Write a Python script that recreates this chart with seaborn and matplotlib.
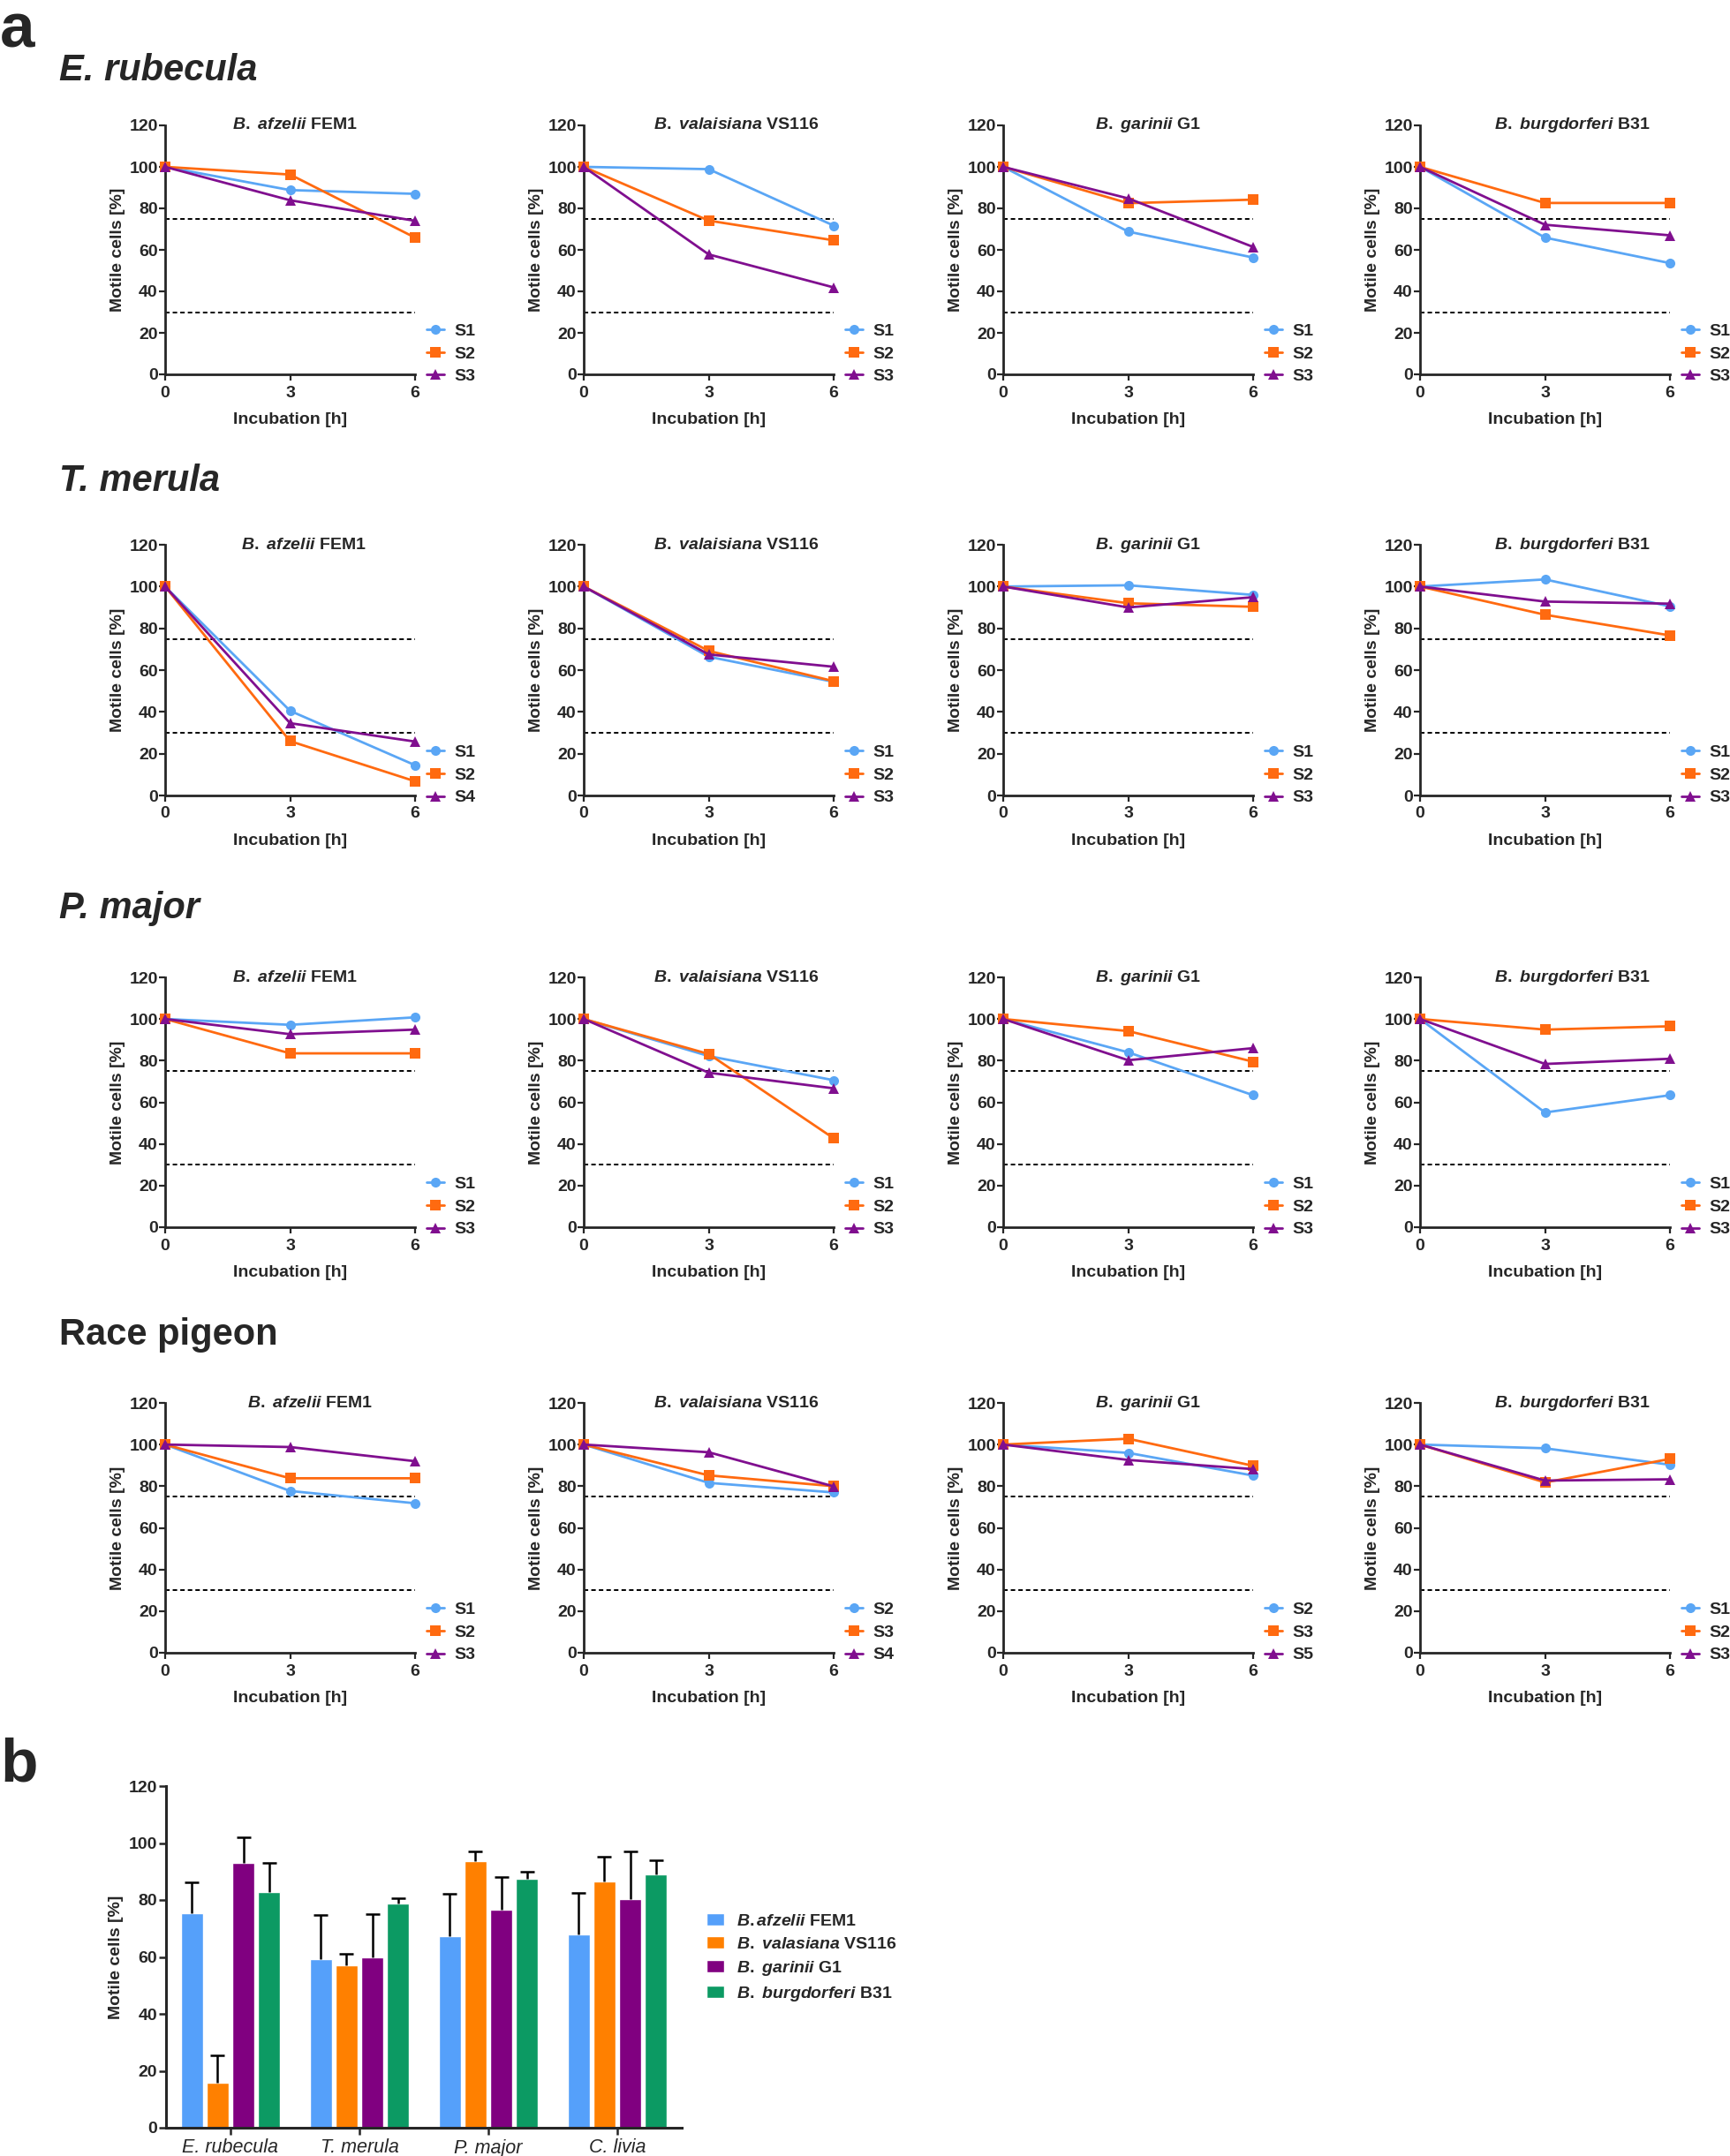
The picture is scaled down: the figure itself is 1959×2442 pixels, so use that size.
import numpy as np
import pandas as pd
import matplotlib
matplotlib.use("Agg")
import matplotlib.pyplot as plt
import seaborn as sns

# ---------------- data ----------------
hours = [0, 3, 6]
bird_titles = ["E. rubecula", "T. merula", "P. major", "Race pigeon"]
strain_titles = [r"$\mathit{B.\ afzelii}$ FEM1", r"$\mathit{B.\ valaisiana}$ VS116",
                 r"$\mathit{B.\ garinii}$ G1", r"$\mathit{B.\ burgdorferi}$ B31"]

# E. rubecula (rows: S1, S2, S3)
rub_afz = [[100, 88.8, 87.0], [100, 96.3, 65.9], [100, 83.9, 74.0]]
rub_val = [[100, 98.9, 71.7], [100, 74.1, 64.6], [100, 57.8, 41.9]]
rub_gar = [[100, 68.8, 56.3], [100, 82.5, 84.2], [100, 84.8, 61.4]]
rub_bur = [[100, 65.9, 53.6], [100, 82.6, 82.6], [100, 72.1, 67.0]]
# T. merula
mer_afz = [[100, 40.5, 14.5], [100, 26.0, 6.8], [100, 34.6, 25.8]]
mer_val = [[100, 66.4, 54.4], [100, 69.2, 54.7], [100, 67.5, 61.6]]
mer_gar = [[100, 100.6, 96.0], [100, 92.0, 90.3], [100, 90.0, 94.9]]
mer_bur = [[100, 103.4, 90.5], [100, 86.5, 76.6], [100, 92.8, 91.8]]
# P. major
maj_afz = [[100, 97.2, 100.8], [100, 83.5, 83.5], [100, 92.7, 94.9]]
maj_val = [[100, 82.2, 70.6], [100, 83.2, 42.7], [100, 74.2, 66.7]]
maj_gar = [[100, 84.0, 63.4], [100, 94.2, 79.5], [100, 80.2, 86.0]]
maj_bur = [[100, 55.1, 63.4], [100, 94.9, 96.5], [100, 78.4, 80.9]]
# Race pigeon
pig_afz = [[100, 77.7, 71.8], [100, 83.8, 83.8], [100, 98.8, 92.0]]
pig_val = [[100, 81.6, 77.0], [100, 85.2, 80.0], [100, 96.3, 79.9]]
pig_gar = [[100, 96.0, 85.1], [100, 102.8, 89.8], [100, 92.6, 88.2]]
pig_bur = [[100, 98.2, 90.3], [100, 81.8, 93.1], [100, 82.7, 83.3]]

rub_labels = [["S1", "S2", "S3"]] * 4
mer_labels = [["S1", "S2", "S4"], ["S1", "S2", "S3"], ["S1", "S2", "S3"], ["S1", "S2", "S3"]]
maj_labels = [["S1", "S2", "S3"]] * 4
pig_labels = [["S1", "S2", "S3"], ["S2", "S3", "S4"], ["S2", "S3", "S5"], ["S1", "S2", "S3"]]

# panel b
bar_birds = ["E. rubecula", "T. merula", "P. major", "C. livia"]
bar_strains = [r"$\mathit{B.afzelii}$ FEM1", r"$\mathit{B.\ valasiana}$ VS116",
               r"$\mathit{B.\ garinii}$ G1", r"$\mathit{B.\ burgdorferi}$ B31"]
afz_mean = [75.5, 59.3, 67.2, 67.9]
val_mean = [15.8, 56.9, 93.6, 86.5]
gar_mean = [93.0, 60.0, 76.6, 80.2]
bur_mean = [82.9, 78.9, 87.5, 89.1]
afz_sd = [10.7, 15.5, 15.0, 14.5]
val_sd = [9.6, 4.2, 3.3, 8.8]
gar_sd = [8.9, 15.1, 11.6, 16.8]
bur_sd = [10.1, 1.8, 2.5, 4.9]

# ---------------- style ----------------
sns.set_style("ticks")
plt.rcParams["font.family"] = ["Liberation Sans", "DejaVu Sans"]
plt.rcParams["font.weight"] = "bold"
plt.rcParams["axes.labelweight"] = "bold"
plt.rcParams["mathtext.fontset"] = "custom"
plt.rcParams["mathtext.it"] = "Liberation Sans:italic:bold"
plt.rcParams["mathtext.rm"] = "Liberation Sans:bold"
plt.rcParams["mathtext.bf"] = "Liberation Sans:bold"

line_colors = ["#5aa6f5", "#ff6a10", "#800f8f"]
bar_colors = ["#55a0fa", "#ff8000", "#800080", "#0c9a63"]

W, H = 1959, 2442
fig = plt.figure(figsize=(W / 100, H / 100), dpi=100)

col_left = [187, 661, 1136, 1608]
col_w = 283
row_top = [142, 617, 1107, 1589]
row_bot = [424, 901, 1390, 1872]
head_y = [80, 545, 1029, 1512]
# horizontal shift (px) of each panel title from the axes centre
title_dx = [[5, 31, 23, 31], [15, 31, 23, 31], [5, 31, 23, 31], [22, 31, 23, 31]]

panels = [[rub_afz, rub_val, rub_gar, rub_bur],
          [mer_afz, mer_val, mer_gar, mer_bur],
          [maj_afz, maj_val, maj_gar, maj_bur],
          [pig_afz, pig_val, pig_gar, pig_bur]]
panel_labels = [rub_labels, mer_labels, maj_labels, pig_labels]

FS = 14
for r in range(4):
    style = "italic" if r < 3 else "normal"
    fig.text(67 / W, 1 - head_y[r] / H, bird_titles[r], fontsize=30, fontweight="bold",
             fontstyle=style, va="center", ha="left")
    for c in range(4):
        ax = fig.add_axes([col_left[c] / W, 1 - row_bot[r] / H, col_w / W, (row_bot[r] - row_top[r]) / H])
        vals = panels[r][c]
        labels = panel_labels[r][c]
        df = pd.DataFrame({"h": hours * 3,
                           "v": sum(vals, []),
                           "s": np.repeat(labels, 3)})
        ax.axhline(75, color="black", ls=(0, (2.6, 1.8)), lw=1.4, zorder=1)
        ax.axhline(30, color="black", ls=(0, (2.6, 1.8)), lw=1.4, zorder=1)
        sns.lineplot(data=df, x="h", y="v", hue="s", style="s", hue_order=labels, style_order=labels,
                     palette=line_colors, markers=["o", "s", "^"], dashes=False, markersize=8,
                     markeredgewidth=0, linewidth=2.0, errorbar=None, ax=ax, clip_on=False, zorder=3)
        ax.set_xlim(0, 6)
        ax.set_ylim(0, 120)
        ax.set_xticks([0, 3, 6])
        ax.set_yticks(range(0, 121, 20))
        ax.tick_params(axis="both", direction="out", length=5, width=1.6, labelsize=FS)
        ax.tick_params(axis="x", pad=4)
        ax.tick_params(axis="y", pad=1)
        for sp in ["top", "right"]:
            ax.spines[sp].set_visible(False)
        for sp in ["left", "bottom"]:
            ax.spines[sp].set_linewidth(2.0)
        ax.set_xlabel("Incubation [h]", fontsize=FS, fontweight="bold", labelpad=10)
        ax.set_ylabel("Motile cells [%]", fontsize=FS, fontweight="bold", labelpad=3)
        ax.text(0.5 + title_dx[r][c] / col_w, 1.0, strain_titles[c], transform=ax.transAxes,
                ha="center", va="center", fontsize=FS, fontweight="bold")
        sns.move_legend(ax, "lower left", bbox_to_anchor=(1.045, -0.04), frameon=False, title=None,
                        handlelength=1.05, handletextpad=0.6, labelspacing=0.42, borderpad=0,
                        borderaxespad=0, prop={"weight": "bold", "size": FS})

fig.text(0, 1 - 53 / H, "a", fontsize=51, fontweight="bold", va="baseline", ha="left")
fig.text(0, 1 - 2018 / H, "b", fontsize=50, fontweight="bold", va="baseline", ha="left")

# ---------------- panel b ----------------
axb = fig.add_axes([188 / W, 1 - 2410 / H, (772 - 188) / W, (2410 - 2023) / H])
df_b = pd.DataFrame({"bird": np.tile(bar_birds, 4),
                     "strain": np.repeat(bar_strains, 4),
                     "v": afz_mean + val_mean + gar_mean + bur_mean})
sns.barplot(data=df_b, x="bird", y="v", hue="strain", order=bar_birds, hue_order=bar_strains,
            palette=bar_colors, saturation=1, gap=0.15, width=0.8, errorbar=None, ax=axb, zorder=2)
for cont, sd in zip(axb.containers, [afz_sd, val_sd, gar_sd, bur_sd]):
    xs = np.array([p.get_x() + p.get_width() / 2 for p in cont])
    ys = np.array([p.get_height() for p in cont])
    tops = ys + np.array(sd)
    axb.vlines(xs, ys, tops, color="black", lw=1.8, zorder=3)
    axb.plot(xs, tops, ls="none", marker="_", markersize=11, markeredgewidth=1.8,
             color="black", zorder=3)
axb.set_xlim(-0.5, 3.5)
axb.set_ylim(0, 120)
axb.set_yticks(range(0, 121, 20))
axb.tick_params(direction="out", length=6, width=1.8, labelsize=FS)
axb.tick_params(axis="y", pad=1)
axb.tick_params(axis="x", pad=3)
for sp in ["top", "right"]:
    axb.spines[sp].set_visible(False)
for sp in ["left", "bottom"]:
    axb.spines[sp].set_linewidth(2.2)
axb.set_xlabel("")
axb.set_ylabel("Motile cells [%]", fontsize=FS, fontweight="bold", labelpad=4)
for t in axb.get_xticklabels():
    t.set_fontstyle("italic")
    t.set_fontweight("normal")
    t.set_fontsize(15.5)
sns.move_legend(axb, "center left", bbox_to_anchor=(800 / W, 1 - 2218 / H),
                bbox_transform=fig.transFigure, frameon=False, title=None,
                handlelength=1.05, handleheight=0.75, handletextpad=0.7, labelspacing=0.42,
                borderpad=0, borderaxespad=0, prop={"weight": "bold", "size": FS})

fig.savefig("out.png", dpi=100, facecolor="white")
